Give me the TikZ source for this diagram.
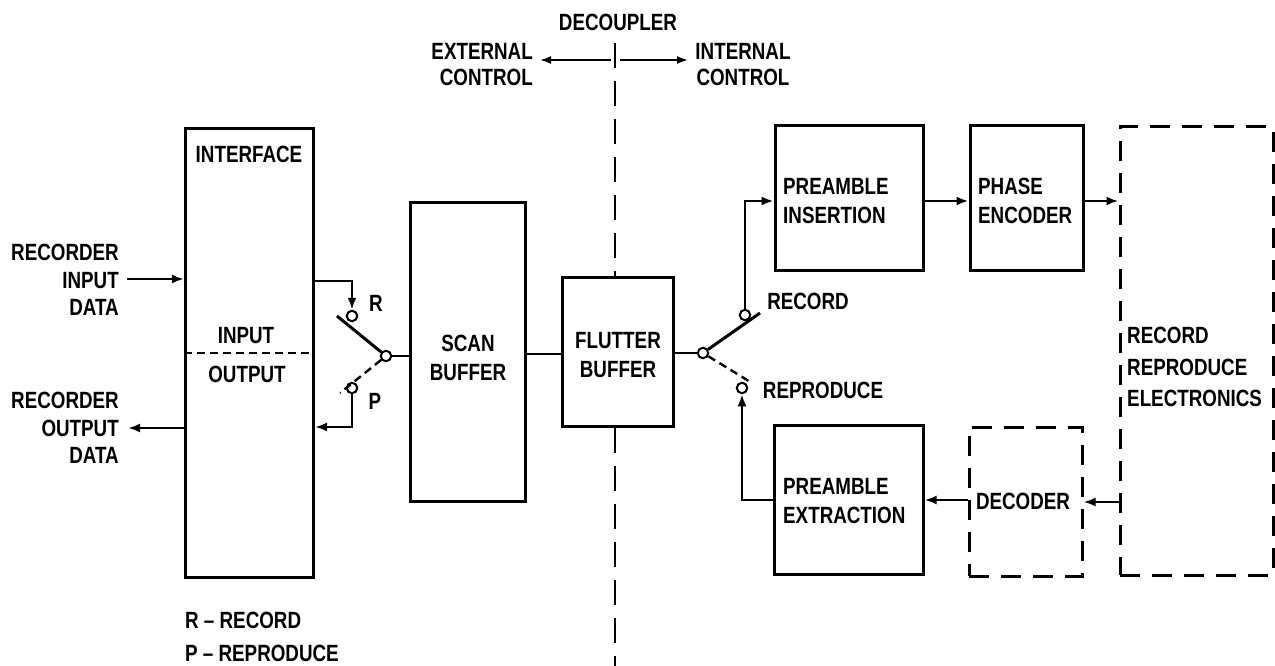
\documentclass[tikz,border=0pt]{standalone}
\usepackage{fontspec}
\setmainfont{Liberation Sans}[FakeStretch=0.8]
\usetikzlibrary{arrows.meta,calc}
\newcommand{\lblf}{\fontsize{23.5}{27.5}\selectfont\bfseries}
\tikzset{
  box/.style={draw,line width=3pt,rectangle,inner sep=0pt},
  dbox/.style={box,dash pattern=on 20pt off 12pt},
  conn/.style={line width=2.3pt},
  arr/.style={conn,-{Latex[length=12pt,width=9pt]}},
  lbl/.style={font=\lblf,inner sep=0pt},
  contact/.style={draw,circle,line width=2pt,fill=white,minimum size=10.5pt,inner sep=0pt},
  blade/.style={line width=3pt},
  dblade/.style={line width=2.4pt,dash pattern=on 8pt off 5pt},
  decline/.style={line width=2pt,dash pattern=on 25pt off 13pt},
}
\begin{document}
\begin{tikzpicture}[x=1pt,y=-1pt]
\useasboundingbox (0,0) rectangle (1275,666);
% boxes
\node[box,minimum width=128pt,minimum height=448pt] (iface) at (249.5,353) {};
\node[box,minimum width=115pt,minimum height=299pt] (scan) at (467.5,351.5) {};
\node[box,minimum width=111pt,minimum height=149pt] (flut) at (617.5,351.5) {};
\node[box,minimum width=148pt,minimum height=144pt] (pins) at (849,198) {};
\node[box,minimum width=113pt,minimum height=144pt] (penc) at (1026.5,198) {};
\node[dbox,minimum width=153pt,minimum height=448pt] (elec) at (1196.5,351) {};
\node[dbox,minimum width=113pt,minimum height=149pt] (dec) at (1025.5,501.5) {};
\node[box,minimum width=149pt,minimum height=149pt] (pext) at (848.5,499.5) {};
% labels in boxes
\node[lbl,anchor=north] (tiface) at (249,146) {INTERFACE};
\node[lbl] (tin) at (246,336) {INPUT};
\node[lbl] (tout) at (247,374) {OUTPUT};
\node[lbl,align=center] (tscan) at (468,358) {SCAN\\[2pt]BUFFER};
\node[lbl,align=center] (tflut) at (618,355) {FLUTTER\\[2pt]BUFFER};
\node[lbl,align=left,anchor=north west] (tpins) at (783,178) {PREAMBLE\\[1.5pt]INSERTION};
\node[lbl,align=left,anchor=north west] (tpenc) at (978,178) {PHASE\\[1.5pt]ENCODER};
\node[lbl,align=left,anchor=north west] (tpext) at (783,478) {PREAMBLE\\[1.5pt]EXTRACTION};
\node[lbl] (tdec) at (1023,501) {DECODER};
\node[lbl,align=left,anchor=north west] (telec) at (1127,327) {RECORD\\[4pt]REPRODUCE\\[4pt]ELECTRONICS};
% outside labels
\node[lbl,align=right,anchor=north east] (tri) at (119,244) {RECORDER\\INPUT\\DATA};
\node[lbl,align=right,anchor=north east] (tro) at (119,392) {RECORDER\\OUTPUT\\DATA};
\node[lbl] (tdecoup) at (618,22) {DECOUPLER};
\node[lbl,align=right,anchor=north east] (text) at (533,43) {EXTERNAL\\[-1.5pt]CONTROL};
\node[lbl,align=center,anchor=north] (tint) at (743,43) {INTERNAL\\[-1.5pt]CONTROL};
\node[lbl] (tR) at (376,303) {R};
\node[lbl] (tP) at (375,401) {P};
\node[lbl] (trec) at (808,301.5) {RECORD};
\node[lbl] (trep) at (823,390) {REPRODUCE};
\node[lbl,anchor=west] (leg1) at (185,620) {R \textendash\ RECORD};
\node[lbl,anchor=west] (leg2) at (185,653) {P \textendash\ REPRODUCE};
% switch contacts
\node[contact] (lr) at (352,316) {};
\node[contact] (lpc) at (352,388) {};
\node[contact] (lpiv) at (386,356) {};
\node[contact] (rr) at (745,315) {};
\node[contact] (rpc) at (742,388) {};
\node[contact] (rpiv) at (703,353) {};
% free ends
\coordinate (inA) at (127,279);
\coordinate (outA) at (128,428);
\coordinate (lbs) at (337,316);
\coordinate (lbd) at (340,393);
\coordinate (rbs) at (760,313);
\coordinate (rbd) at (752,383);
\coordinate (decT) at (615,43);
\coordinate (decB) at (615,666);
\coordinate (decL) at (611,60);
\coordinate (decR) at (620,60);
\coordinate (extA) at (540,60);
\coordinate (intA) at (688,60);
% interface divider
\draw[line width=2pt,dash pattern=on 8pt off 5pt] (iface.west |- 0,353) -- (iface.east |- 0,353);
% connectors
\draw[arr] (inA) -- (iface.west |- inA);
\draw[arr] (iface.west |- outA) -- (outA);
\draw[arr] (iface.east |- 0,281) -| (lr.north);
\draw[arr] (lpc.south) |- (iface.east |- 0,427);
\draw[blade] (lpiv) -- (lbs);
\draw[dblade] (lpiv) -- (lbd);
\draw[conn] (lpiv) -- (scan.west |- lpiv);
\draw[conn] (scan.east |- 0,354) -- (flut.west |- 0,354);
\draw[conn] (flut.east |- rpiv) -- (rpiv);
\draw[blade] (rpiv) -- (rbs);
\draw[dblade] (rpiv) -- (rbd);
\draw[arr] (rr.north) |- (pins.west |- 0,201);
\draw[arr] (pext.west |- 0,500) -| (rpc.south);
\draw[arr] (pins.east |- 0,201) -- (penc.west |- 0,201);
\draw[arr] (penc.east |- 0,201) -- (elec.west |- 0,201);
\draw[arr] (elec.west |- 0,502) -- (dec.east |- 0,502);
\draw[arr] (dec.west |- 0,500) -- (pext.east |- 0,500);
% decoupler
\draw[decline] (decT) -- (flut.north -| decT);
\draw[decline] (flut.south -| decB) -- (decB);
\draw[line width=1.8pt,-{Latex[length=11pt,width=8pt]}] (decL) -- (extA);
\draw[line width=1.8pt,-{Latex[length=11pt,width=8pt]}] (decR) -- (intA);
\end{tikzpicture}
\end{document}
